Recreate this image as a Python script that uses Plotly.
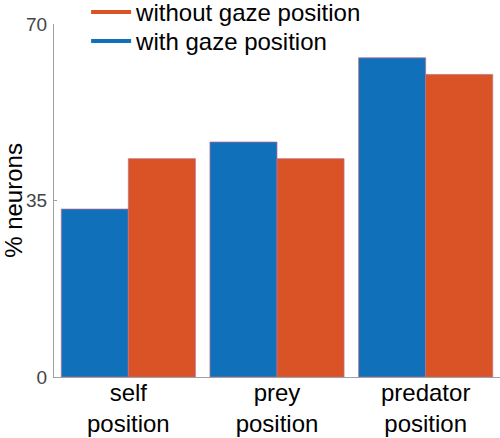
import plotly.graph_objects as go

categories = ["self<br>position", "prey<br>position", "predator<br>position"]
with_gaze = [33.3, 46.6, 63.3]
without_gaze = [43.3, 43.3, 60.0]
y_ticks = [0, 35, 70]

BLUE = "#1170BA"
ORANGE = "#D95326"
EDGE = "rgba(190,110,140,0.9)"
FONT = "Liberation Sans, Arial, Helvetica, sans-serif"

fig = go.Figure()
fig.add_trace(go.Bar(x=categories, y=with_gaze, marker=dict(color=BLUE, line=dict(color=EDGE, width=0.8)),
                     showlegend=False))
fig.add_trace(go.Bar(x=categories, y=without_gaze, marker=dict(color=ORANGE, line=dict(color=EDGE, width=0.8)),
                     showlegend=False))
# legend entries drawn as line samples (one legend per row)
fig.add_trace(go.Scatter(x=[None], y=[None], mode="lines", line=dict(color=ORANGE, width=4),
                         name="without gaze position", legend="legend"))
fig.add_trace(go.Scatter(x=[None], y=[None], mode="lines", line=dict(color=BLUE, width=4),
                         name="with gaze position", legend="legend2"))

leg_common = dict(xanchor="left", yanchor="middle", bgcolor="rgba(0,0,0,0)",
                  font=dict(size=24, family=FONT, color="black"), itemwidth=40)
fig.update_layout(
    width=500, height=438,
    margin=dict(l=54, r=0, t=24, b=61, autoexpand=False),
    plot_bgcolor="white", paper_bgcolor="white",
    barmode="group", bargap=0.098, bargroupgap=0,
    font=dict(family=FONT, color="black", size=24),
    legend=dict(x=0.072, y=1.0326, **leg_common),
    legend2=dict(x=0.072, y=0.9504, **leg_common),
)
fig.update_xaxes(range=[-0.5, 2.5], showline=True, linecolor="#a0a0a0", linewidth=1, automargin=False,
                 ticks="", tickfont=dict(size=24, color="black"), showgrid=False, zeroline=False,
                 ticklabelstandoff=-6)
fig.update_yaxes(range=[0, 70], tickvals=y_ticks, ticktext=[str(v) for v in y_ticks], automargin=False,
                 showline=True, linecolor="#a0a0a0", linewidth=1, ticks="inside", ticklen=3,
                 tickcolor="#a0a0a0", tickfont=dict(size=19, color="#444444"), showgrid=False,
                 ticklabelstandoff=2,
                 zeroline=False, title=dict(text="% neurons", font=dict(size=24, color="black"), standoff=10))

fig.write_html("out.html", config={"displayModeBar": False},
               post_script="document.body.style.margin='0px';")
